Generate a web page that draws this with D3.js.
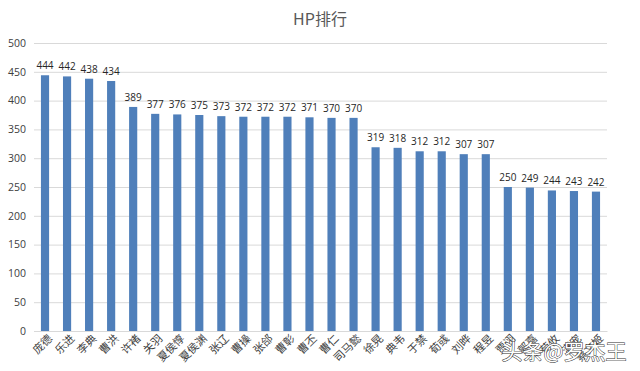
<!DOCTYPE html>
<html><head><meta charset="utf-8">
<script src="https://cdn.jsdelivr.net/npm/d3@7"></script>
<style>body{margin:0;background:#fff;}svg{display:block;}</style>
</head><body>
<svg id="c" width="640" height="371"></svg>
<script>
const categories = ["庞德","乐进","李典","曹洪","许褚","关羽","夏侯惇","夏侯渊","张辽","曹操","张郃","曹彰","曹丕","曹仁","司马懿","徐晃","典韦","于禁","荀彧","刘晔","程昱","贾诩","郭嘉","荀攸","满宠","蔡文姬"];
const values = [444,442,438,434,389,377,376,375,373,372,372,372,371,370,370,319,318,312,312,307,307,250,249,244,243,242];
const yTicks = [0,50,100,150,200,250,300,350,400,450,500];
const title = "HP排行";
const watermark = "头条@罗杰王";

const svg = d3.select("#c");
const m = {left:34, right:33, top:43, bottom:40};
const W = 640, H = 371;
const x = d3.scaleBand().domain(categories).range([m.left, W - m.right]).paddingInner(0.63).paddingOuter(0.315);
const y = d3.scaleLinear().domain([0,500]).range([H - m.bottom, m.top]);
const font = "'Noto Sans CJK SC','Noto Sans',sans-serif";

svg.append("text").attr("x", 320).attr("y", 25).attr("text-anchor","middle")
  .attr("font-family", font).attr("font-size", 16).attr("fill","#595959").text(title);

const ya = svg.append("g").attr("transform", `translate(${m.left},0)`)
  .call(d3.axisLeft(y).tickValues(yTicks).tickSize(-(W - m.left - m.right)).tickPadding(8));
ya.select(".domain").remove();
ya.selectAll(".tick line").attr("stroke","#d9d9d9");
ya.selectAll(".tick text").attr("font-family","'Open Sans',sans-serif").attr("font-size",10.5).attr("fill","#404040");

svg.append("g").selectAll("rect").data(values).join("rect")
  .attr("x", (d,i) => x(categories[i])).attr("width", x.bandwidth())
  .attr("y", d => y(d)).attr("height", d => y(0) - y(d)).attr("fill","#4f7fba");

svg.append("g").selectAll("text").data(values).join("text")
  .attr("x", (d,i) => x(categories[i]) + x.bandwidth()/2).attr("y", d => y(d) - 6)
  .attr("text-anchor","middle").attr("font-family","'Open Sans',sans-serif").attr("font-size",10)
  .attr("fill","#262626").text(d => d);

const xa = svg.append("g").attr("transform", `translate(0,${H - m.bottom})`)
  .call(d3.axisBottom(x).tickSize(0).tickPadding(6));
xa.select(".domain").attr("stroke","#d9d9d9");
xa.selectAll(".tick text").attr("font-family", font).attr("font-size",11).attr("fill","#404040")
  .attr("text-anchor","end").attr("dx","0em").attr("dy","0.5em").attr("transform","rotate(-45)");

svg.append("text").attr("x", 564).attr("y", 359).attr("text-anchor","middle")
  .attr("font-family", font).attr("font-size", 21).attr("fill","#ffffff")
  .attr("stroke","#333").attr("stroke-width",1).attr("paint-order","stroke").text(watermark);
</script>
</body></html>
